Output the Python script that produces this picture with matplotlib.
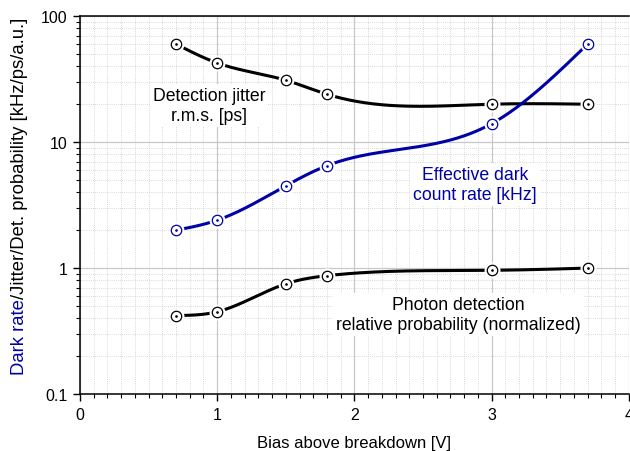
import numpy as np
import matplotlib
matplotlib.use("Agg")
import matplotlib.pyplot as plt
from matplotlib.ticker import LogLocator, MultipleLocator, NullFormatter, FixedFormatter, FixedLocator

plt.rcParams['font.family'] = ['Liberation Sans', 'DejaVu Sans']

# data
bias = [0.7, 1.0, 1.5, 1.8, 3.0, 3.7]
jitter_ps = [60, 42.5, 31, 24, 20, 20]
dark_khz = [2.0, 2.4, 4.5, 6.5, 14, 60]
det_prob = [0.42, 0.45, 0.75, 0.87, 0.96, 1.0]

BLUE = '#0000a8'


def natural_spline(x, y, n=300):
    # natural cubic spline, used only to draw the smooth connecting curve
    x = np.asarray(x, float)
    y = np.asarray(y, float)
    k = len(x)
    h = np.diff(x)
    A = np.zeros((k, k))
    b = np.zeros(k)
    A[0, 0] = A[-1, -1] = 1
    for i in range(1, k - 1):
        A[i, i - 1] = h[i - 1]
        A[i, i] = 2 * (h[i - 1] + h[i])
        A[i, i + 1] = h[i]
        b[i] = 3 * ((y[i + 1] - y[i]) / h[i] - (y[i] - y[i - 1]) / h[i - 1])
    c = np.linalg.solve(A, b)
    xs = np.linspace(x[0], x[-1], n)
    ys = np.empty_like(xs)
    for j, xv in enumerate(xs):
        i = min(np.searchsorted(x, xv, side='right') - 1, k - 2)
        bi = (y[i + 1] - y[i]) / h[i] - h[i] * (2 * c[i] + c[i + 1]) / 3
        di = (c[i + 1] - c[i]) / (3 * h[i])
        t = xv - x[i]
        ys[j] = y[i] + bi * t + c[i] * t ** 2 + di * t ** 3
    return xs, ys


fig = plt.figure(figsize=(6.3, 4.52), dpi=100)
ax = fig.add_axes([0.127, 0.126, 0.871, 0.836])

ax.set_yscale('log')
ax.set_xlim(0, 4)
ax.set_ylim(0.1, 100)

for vals, col in [(jitter_ps, 'black'), (dark_khz, BLUE), (det_prob, 'black')]:
    xs, ly = natural_spline(bias, np.log10(vals))
    ax.plot(xs, 10 ** ly, color=col, lw=2.2, zorder=3)
    # white halo around markers gives the gap between line and circle
    ax.plot(bias, vals, ls='none', marker='o', ms=10.5, mfc='white', mec='white', zorder=4)
    ax.plot(bias, vals, ls='none', marker='o', ms=7.5, mfc='white', mec=col, mew=0.9, zorder=5)
    ax.plot(bias, vals, ls='none', marker='o', ms=0.9, mfc=col, mec=col, zorder=6)

# grid
ax.xaxis.set_major_locator(MultipleLocator(1))
ax.xaxis.set_minor_locator(MultipleLocator(0.1))
ax.yaxis.set_minor_locator(LogLocator(base=10, subs=np.arange(2, 10), numticks=10))
ax.yaxis.set_minor_formatter(NullFormatter())
ax.yaxis.set_major_locator(FixedLocator([0.1, 1, 10, 100]))
ax.yaxis.set_major_formatter(FixedFormatter(['0.1', '1', '10', '100']))
ax.grid(which='major', color='#c8c8c8', lw=0.9, ls='-', zorder=0)
ax.grid(which='minor', color='#cccccc', lw=0.6, ls=(0, (1, 1.5)), zorder=0)
ax.set_axisbelow(True)

ax.tick_params(which='major', direction='out', length=5, width=1, labelsize=11.5, pad=4)
ax.tick_params(which='minor', direction='out', length=3, width=0.8)
for s in ['left', 'bottom', 'top']:
    ax.spines[s].set_linewidth(1.1)
ax.spines['right'].set_visible(False)

ax.set_xlabel('Bias above breakdown [V]', fontsize=12, labelpad=10)

# annotations
box = dict(facecolor='white', edgecolor='none', pad=2)
ax.text(0.94, 19.6, 'Detection jitter\nr.m.s. [ps]', ha='center', va='center',
        fontsize=12.7, linespacing=1.25, bbox=box, zorder=7)
ax.text(2.88, 4.6, 'Effective dark\ncount rate [kHz]', ha='center', va='center',
        fontsize=12.7, color=BLUE, linespacing=1.25, bbox=box, zorder=7)
ax.text(2.76, 0.43, 'Photon detection\nrelative probability (normalized)', ha='center',
        va='center', fontsize=12.7, linespacing=1.25, bbox=box, zorder=7)

# two-coloured y label
fig.canvas.draw()
r = fig.canvas.get_renderer()
t1 = fig.text(0.031, 0.170, 'Dark rate', rotation=90, color=BLUE, fontsize=13.3,
              ha='center', va='bottom')
ext = t1.get_window_extent(renderer=r)
y2 = ext.y1 / fig.bbox.height
fig.text(0.031, y2, '/Jitter/Det. probability [kHz/ps/a.u.]', rotation=90,
         color='black', fontsize=13.3, ha='center', va='bottom')

fig.savefig('out.png', dpi=100)
